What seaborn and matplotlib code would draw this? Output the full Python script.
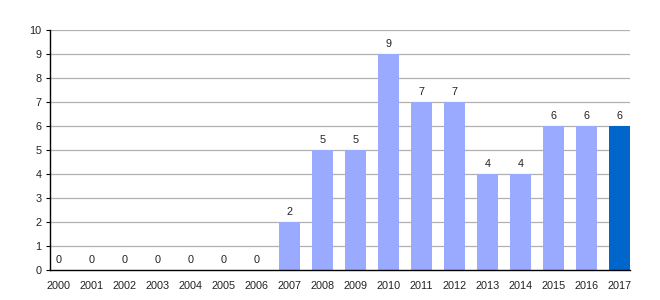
import matplotlib
matplotlib.use("Agg")
import matplotlib.pyplot as plt
import seaborn as sns
import pandas as pd

years = [str(y) for y in range(2000, 2018)]
values = [0, 0, 0, 0, 0, 0, 0, 2, 5, 5, 9, 7, 7, 4, 4, 6, 6, 6]
light = "#99aaff"
dark = "#0066cc"
colors = [light] * 17 + [dark]

sns.set_theme(style="white")
plt.rcParams["font.family"] = ["Liberation Sans", "DejaVu Sans"]

df = pd.DataFrame({"year": years, "value": values})
fig = plt.figure(figsize=(6.6, 3.0), dpi=100)
ax = fig.add_axes([50/660, 30/300, 580/660, 240/300])

sns.barplot(data=df, x="year", y="value", hue="year", palette=colors, legend=False,
            width=0.63, ax=ax, saturation=1, linewidth=0, edgecolor="none")
for p in ax.patches:
    p.set_zorder(3)
    p.set_alpha(1)

ax.set_xlim(-0.27, 17.32)
ax.set_ylim(0, 10)
ax.set_yticks(range(0, 11))
ax.grid(False)
for yv in range(1, 11):
    ax.axhline(yv, color="#b0b0b0", linewidth=0.9, zorder=1)
ax.set_xlabel("")
ax.set_ylabel("")
for s in ["top", "right"]:
    ax.spines[s].set_visible(False)
ax.spines["left"].set_color("black")
ax.spines["bottom"].set_color("black")
ax.spines["left"].set_linewidth(1.0)
ax.spines["bottom"].set_linewidth(1.0)
ax.spines["left"].set_zorder(4)
ax.spines["bottom"].set_zorder(4)
ax.tick_params(axis="y", left=True, length=3, width=0.8, color="black", labelsize=7.8, pad=3, labelcolor="#222222")
ax.tick_params(axis="x", bottom=False, labelsize=7.8, pad=2, labelcolor="#222222")

for i, v in enumerate(values):
    ax.text(i, v + 0.2, str(v), ha="center", va="bottom", fontsize=7.8, color="#222222", zorder=5)

fig.savefig("out.png", dpi=100)
